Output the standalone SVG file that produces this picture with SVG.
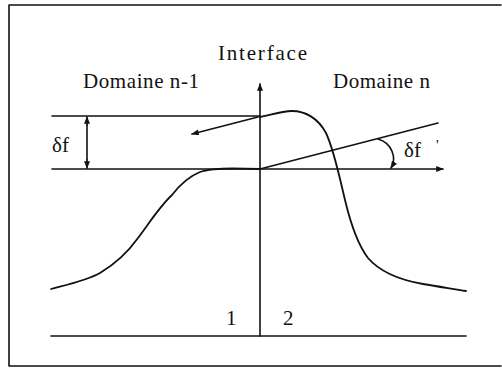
<svg xmlns="http://www.w3.org/2000/svg" width="502" height="368" viewBox="0 0 502 368">
<style>
.ln{fill:none;stroke:#111;stroke-width:1.6;stroke-linecap:round;stroke-linejoin:round}
.cv{fill:none;stroke:#111;stroke-width:1.8;stroke-linecap:round;stroke-linejoin:round}
.t{font-family:"Liberation Serif","Times New Roman",serif;font-size:21px;fill:#111}
</style>
<defs>
<marker id="ah" viewBox="0 0 10 8" refX="9" refY="4" markerWidth="8" markerHeight="6" markerUnits="userSpaceOnUse" orient="auto">
<path d="M0,0 L10,4 L0,8 Z" fill="#111"/>
</marker>
</defs>
<rect width="502" height="368" fill="#fff"/>
<g id="frame">
<path class="ln" d="M501,5 H9 V366 H501" stroke-width="2"/>
</g>
<g id="connectors">
<line class="ln" x1="260" y1="336" x2="260" y2="84" marker-end="url(#ah)"/>
<line class="ln" x1="51" y1="336" x2="466" y2="336"/>
<line class="ln" x1="52" y1="116" x2="260" y2="116"/>
<line class="ln" x1="52" y1="169" x2="443" y2="169" marker-end="url(#ah)"/>
<line class="ln" x1="87" y1="125" x2="87" y2="160"/>
<line class="ln" x1="87" y1="125" x2="87" y2="117" marker-end="url(#ah)"/>
<line class="ln" x1="87" y1="160" x2="87" y2="168" marker-end="url(#ah)"/>
<line class="ln" x1="258" y1="117" x2="192" y2="134" marker-end="url(#ah)"/>
<line class="ln" x1="260" y1="169" x2="438" y2="123"/>
<path class="ln" d="M378,139 C392,143 397,158 391,168" marker-end="url(#ah)"/>
</g>
<g id="curve-left">
<path class="cv" d="M51,289 C70,284 88,280 100,273 C115,264 128,252 138,238 C150,222 160,206 172,195 C182,182 190,176 200,172 C210,168 230,168 260,169"/>
</g>
<g id="curve-right">
<path class="cv" d="M260,117 C270,115 282,111 292,111 C305,111 318,118 326,133 C334,150 339,175 345,200 C351,225 358,245 368,258 C380,272 400,280 423,284 C440,287 455,289 466,291"/>
</g>
<g id="labels">
<text class="t" x="218" y="60" textLength="89" lengthAdjust="spacing">Interface</text>
<text class="t" x="83" y="88" textLength="116" lengthAdjust="spacing">Domaine n-1</text>
<text class="t" x="333" y="88" textLength="97" lengthAdjust="spacing">Domaine n</text>
<text class="t" x="52" y="152">δf</text>
<text class="t" x="404" y="157">δf</text>
<text class="t" x="436" y="150" style="font-size:15px">'</text>
<text class="t" x="226" y="325">1</text>
<text class="t" x="283" y="325">2</text>
</g>
</svg>
